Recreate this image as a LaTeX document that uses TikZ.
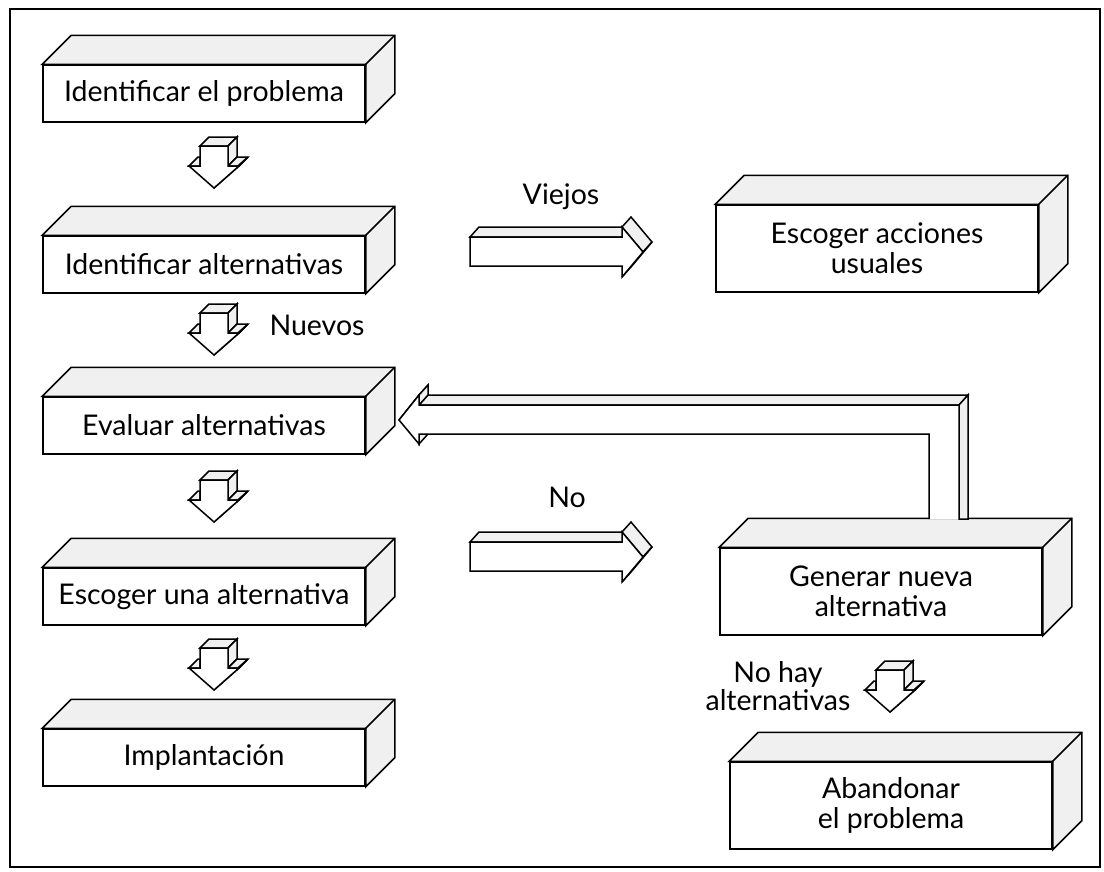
\documentclass[tikz,border=0pt]{standalone}
\usepackage{fontspec}
\setmainfont{Lato}
% top and right faces of a block drawn behind node #1
\newcommand\carasbloque[1]{%
  \filldraw[cara] (#1.north west) -- ++(29,-29) -- ([shift={(29,-29)}]#1.north east)
    -- ([shift={(29,-29)}]#1.south east) -- (#1.south east) -- (#1.north east) -- cycle;
  \draw[linea] (#1.north east) -- ++(29,-29);}
% solid arrow pointing down, tip at coordinate #1
\newcommand\flechabajo[1]{%
  \begin{scope}[shift={(#1)}]
    \filldraw[cara] (-14,-42) -- (-5,-51) -- (23,-51) -- (14,-42) -- cycle;
    \filldraw[cara] (14,-42) -- (23,-51) -- (23,-31) -- (14,-22) -- cycle;
    \filldraw[cara] (14,-22) -- (23,-31) -- (34,-31) -- (25,-22) -- cycle;
    \filldraw[cara] (-25,-22) -- (-16,-31) -- (-14,-31) -- (-14,-22) -- cycle;
    \filldraw[cara] (25,-22) -- (34,-31) -- (9,-9) -- (0,0) -- cycle;
    \filldraw[frente] (-14,-42) -- (14,-42) -- (14,-22) -- (25,-22) -- (0,0)
      -- (-25,-22) -- (-14,-22) -- cycle;
  \end{scope}}
% solid arrow pointing right, tip at coordinate #1, tail at relative x #2
\newcommand\flechader[2]{%
  \begin{scope}[shift={(#1)}]
    \filldraw[cara] (#2,-15) -- ++(9,-10) -- (-12,-25) -- (-21,-15) -- cycle;
    \filldraw[cara] (-21,-25) -- (-12,-35) -- (9,-10) -- (0,0) -- cycle;
    \filldraw[cara] (0,0) -- (9,-10) -- (-12,15) -- (-21,25) -- cycle;
    \filldraw[frente] (#2,-15) -- (-21,-15) -- (-21,-25) -- (0,0) -- (-21,25)
      -- (-21,14) -- (#2,14) -- cycle;
  \end{scope}}
\begin{document}
\begin{tikzpicture}[x=1pt,y=-1pt,
  linea/.style={line width=1.5pt, line join=miter},
  cara/.style={linea, fill=black!6},
  frente/.style={linea, fill=white},
  caja/.style={frente, draw, minimum width=322pt, minimum height=57pt, inner sep=0pt,
    align=center, font=\fontsize{28.5}{30}\selectfont},
  caja2/.style={caja, minimum height=87pt},
  etiqueta/.style={font=\fontsize{28.5}{28}\selectfont, align=center, inner sep=0pt}]

\useasboundingbox (0,0) rectangle (1104,871);
\draw[linea] (10,9) rectangle (1100,867);

% left column
\node[caja] (b1) at (204,93.5) {Identificar el problema};
\node[caja] (b2) at (204,264.5) {Identificar alternativas};
\node[caja] (b3) at (204,425.5) {Evaluar alternativas};
\node[caja] (b4) at (204,596.5) {Escoger una alternativa};
\node[caja] (b5) at (204,757.5) {Implantación};
% right column
\node[caja2] (r1) at (877,248.5) {Escoger acciones\\usuales};
\node[caja2] (r2) at (881,591.5) {Generar nueva\\alternativa};
\node[caja2] (r3) at (891,805.5) {Abandonar\\el problema};

\foreach \n in {b1,b2,b3,b4,b5,r1,r2,r3} {\carasbloque{\n}}

% arrows between steps
\coordinate (a1) at (214,188);
\coordinate (a2) at (214,355);
\coordinate (a3) at (214,522);
\coordinate (a4) at (214,690);
\coordinate (a5) at (890,712);
\foreach \a in {a1,a2,a3,a4,a5} {\flechabajo{\a}}

\coordinate (v1) at (643,252);
\coordinate (v2) at (643,557);
\flechader{v1}{-173}
\flechader{v2}{-173}

% return arrow from r2 back to b3
\filldraw[cara] (419,405) -- (428,395) -- (968,395) -- (959,405) -- cycle;
\filldraw[cara] (959,405) -- (968,395) -- (968,519) -- (959,519) -- cycle;
\filldraw[cara] (399,420) -- (419,395) -- (428,385) -- (408,410) -- cycle;
\filldraw[cara] (419,405) -- (419,395) -- (428,385) -- (428,395) -- cycle;
\filldraw[cara] (419,434) -- (419,444) -- (428,434) -- cycle;
\filldraw[frente] (929,519) -- (929,434) -- (419,434) -- (419,444) -- (399,420)
  -- (419,395) -- (419,405) -- (959,405) -- (959,519);

% labels
\node[etiqueta] (lv) at (561,197) {Viejos};
\node[etiqueta] (ln) at (317,325) {Nuevos};
\node[etiqueta] (lo) at (567,497) {No};
\node[etiqueta] (lh) at (778,686) {No hay\\alternativas};
\end{tikzpicture}
\end{document}
